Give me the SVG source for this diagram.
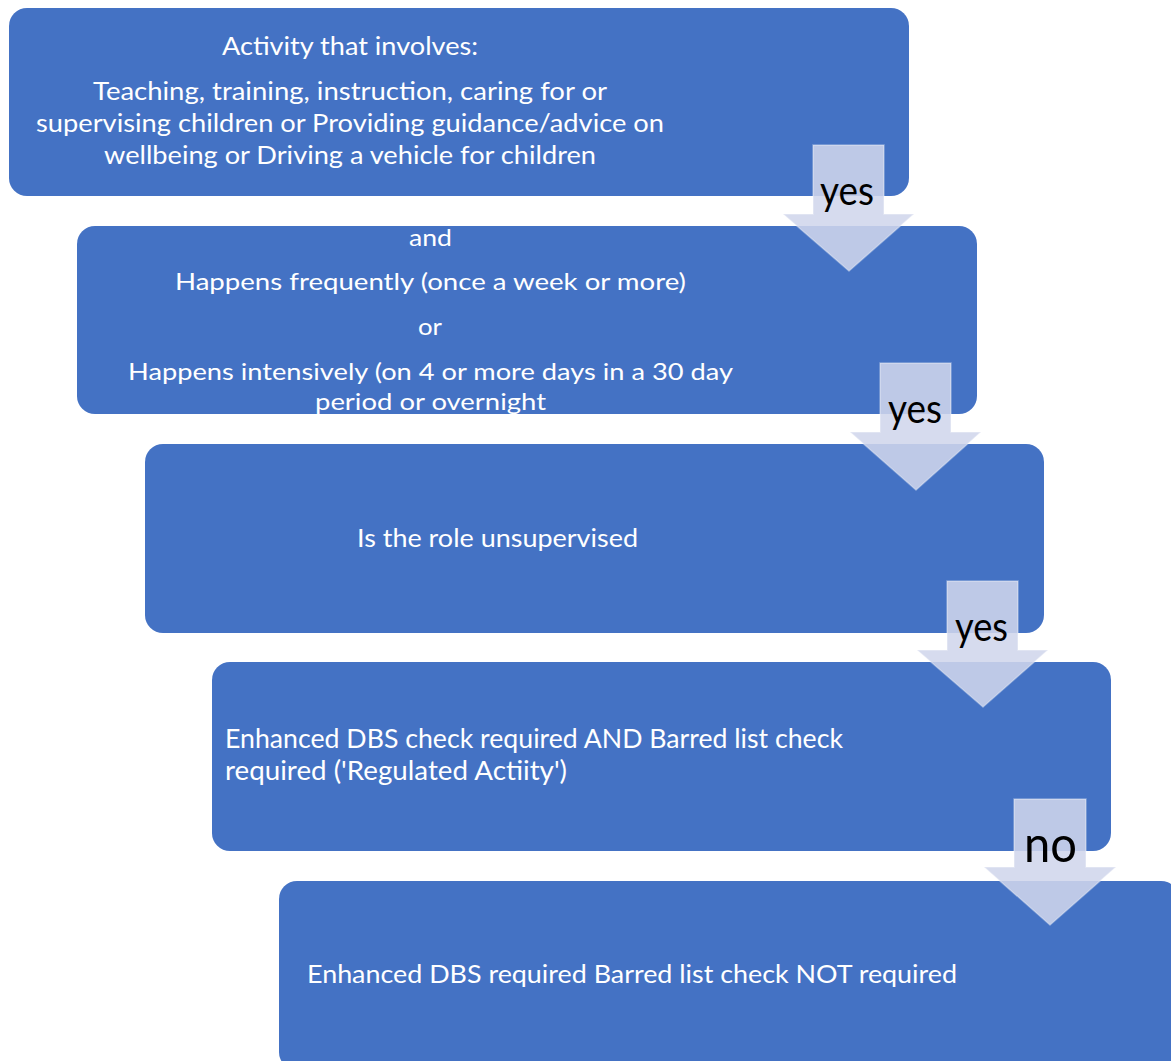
<svg xmlns="http://www.w3.org/2000/svg" width="1171" height="1061" viewBox="0 0 1171 1061">
<style>
.box{fill:#4472C4;}
.t{font-family:Lato,"Open Sans","Liberation Sans",sans-serif;fill:#FFFFFF;}
.t1{font-size:24.5px;}
.t2{font-size:23px;}
.t4{font-size:26.5px;}
.t5{font-size:25.5px;}
.arrow{fill:#D0D6EC;fill-opacity:0.87;stroke:#FFFFFF;stroke-opacity:0.35;stroke-width:1.5;}
.lbl{font-family:Lato,"Open Sans","Liberation Sans",sans-serif;fill:#000000;}
</style>
<rect width="1171" height="1061" fill="#FFFFFF"/>
<g id="node1">
<rect class="box" x="9" y="8" width="900" height="188" rx="18"/>
<text class="t t1" x="222" y="55" textLength="256" lengthAdjust="spacingAndGlyphs">Activity that involves:</text>
<text class="t t1" x="93" y="100" textLength="514" lengthAdjust="spacingAndGlyphs">Teaching, training, instruction, caring for or</text>
<text class="t t1" x="36" y="132" textLength="628" lengthAdjust="spacingAndGlyphs">supervising children or Providing guidance/advice on</text>
<text class="t t1" x="104" y="164" textLength="492" lengthAdjust="spacingAndGlyphs">wellbeing or Driving a vehicle for children</text>
</g>
<g id="node2">
<rect class="box" x="77" y="226" width="900" height="188" rx="18"/>
<text class="t t2" x="409" y="246" textLength="43" lengthAdjust="spacingAndGlyphs">and</text>
<text class="t t2" x="175" y="290" textLength="511" lengthAdjust="spacingAndGlyphs">Happens frequently (once a week or more)</text>
<text class="t t2" x="418" y="335" textLength="24" lengthAdjust="spacingAndGlyphs">or</text>
<text class="t t2" x="128" y="380" textLength="605" lengthAdjust="spacingAndGlyphs">Happens intensively (on 4 or more days in a 30 day</text>
<text class="t t2" x="315" y="410" textLength="231" lengthAdjust="spacingAndGlyphs">period or overnight</text>
</g>
<g id="node3">
<rect class="box" x="145" y="444" width="899" height="189" rx="18"/>
<text class="t t1" x="357" y="547" textLength="281" lengthAdjust="spacingAndGlyphs">Is the role unsupervised</text>
</g>
<g id="node4">
<rect class="box" x="212" y="662" width="899" height="189" rx="18"/>
<text class="t t4" x="225" y="748" textLength="618" lengthAdjust="spacingAndGlyphs">Enhanced DBS check required AND Barred list check</text>
<text class="t t4" x="225" y="780" textLength="342" lengthAdjust="spacingAndGlyphs">required ('Regulated Actiity')</text>
</g>
<g id="node5">
<rect class="box" x="279" y="881" width="900" height="189" rx="18"/>
<text class="t t5" x="307" y="983" textLength="650" lengthAdjust="spacingAndGlyphs">Enhanced DBS required Barred list check NOT required</text>
</g>
<g id="connectors">
<g id="arrow1">
<polygon class="arrow" points="813,145 884,145 884,214 914,214 849,271 783,214 813,214"/>
<text class="lbl" x="820" y="205" font-size="41" textLength="54" lengthAdjust="spacingAndGlyphs">yes</text>
</g>
<g id="arrow2">
<polygon class="arrow" points="880,363 951,363 951,432 981,432 916,490 850,432 880,432"/>
<text class="lbl" x="888" y="423" font-size="41" textLength="54" lengthAdjust="spacingAndGlyphs">yes</text>
</g>
<g id="arrow3">
<polygon class="arrow" points="947,581 1018,581 1018,650 1048,650 983,707 917,650 947,650"/>
<text class="lbl" x="955" y="641" font-size="41" textLength="53" lengthAdjust="spacingAndGlyphs">yes</text>
</g>
<g id="arrow4">
<polygon class="arrow" points="1014,799 1086,799 1086,867 1116,867 1050,925 984,867 1014,867"/>
<text class="lbl" x="1024" y="862" font-size="50" textLength="53" lengthAdjust="spacingAndGlyphs">no</text>
</g>
</g>
</svg>
